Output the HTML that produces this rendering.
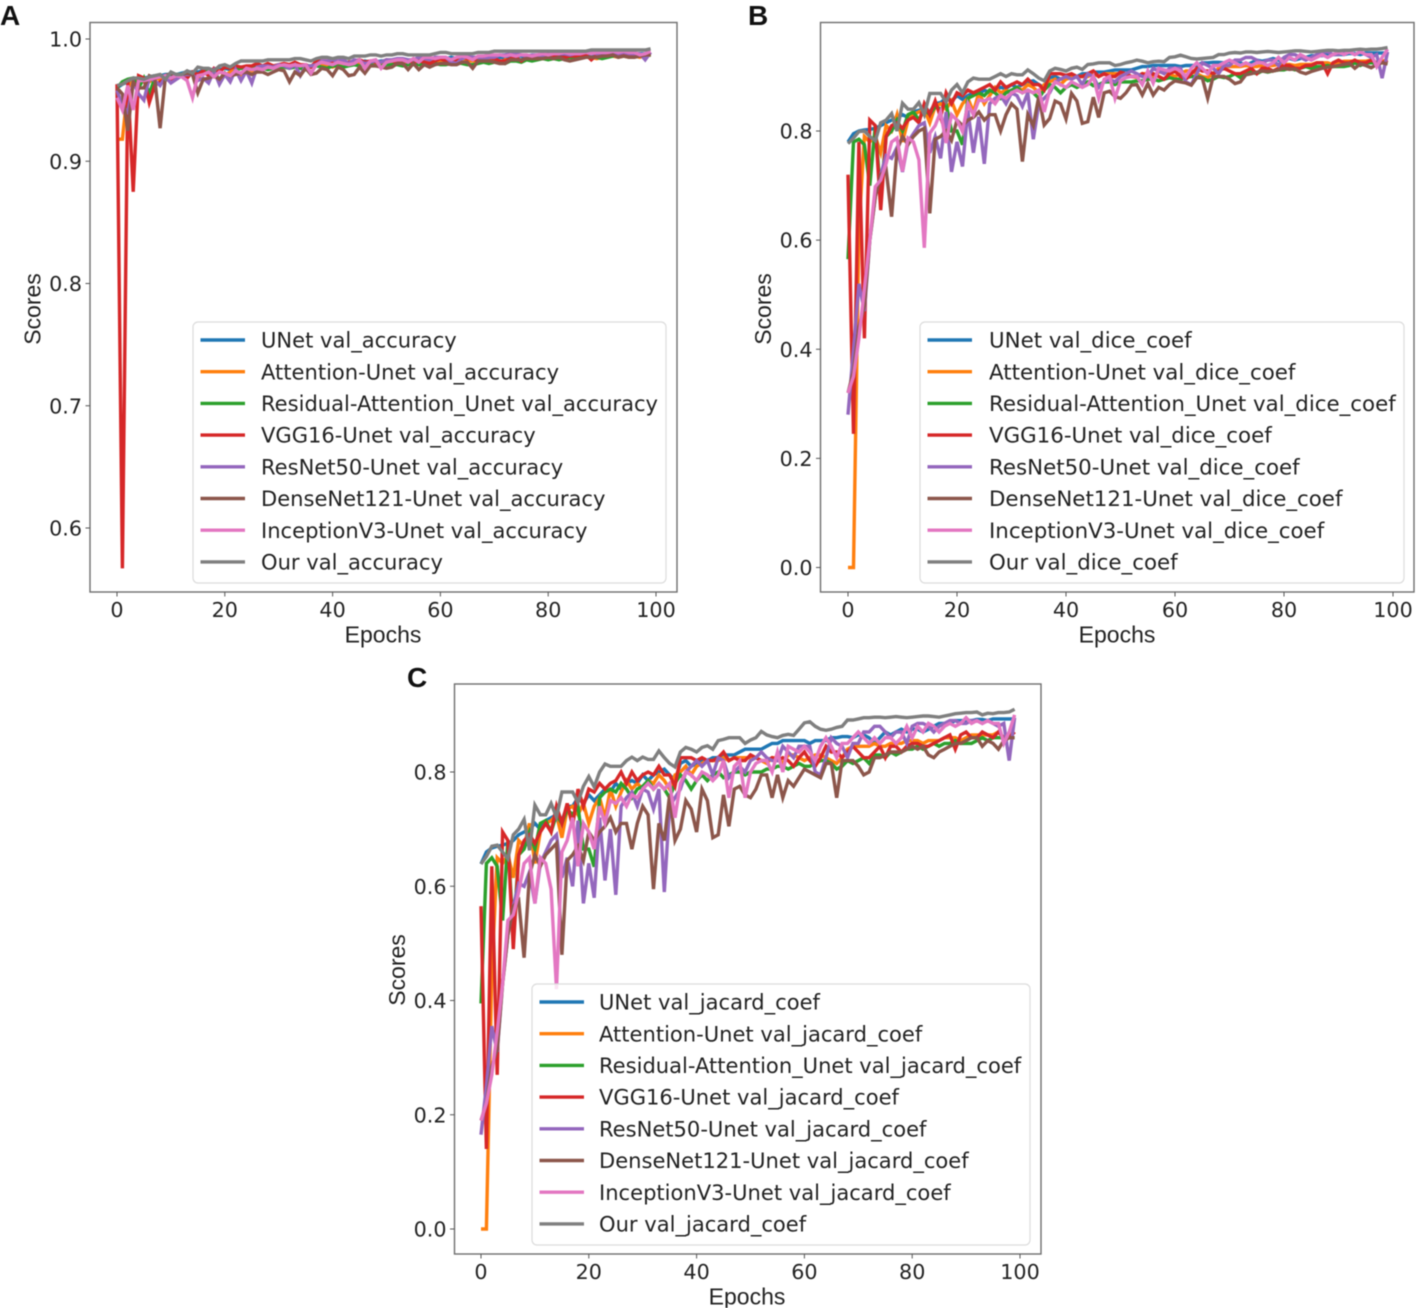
<!DOCTYPE html>
<html>
<head>
<meta charset="utf-8">
<title>Validation curves</title>
<style>
html,body{margin:0;padding:0;background:#fff;}
svg{display:block;filter:blur(0.4px);}
.tick{font-family:"DejaVu Sans",sans-serif;font-size:20.7px;fill:#222;}
.leg{font-family:"DejaVu Sans",sans-serif;font-size:21.05px;fill:#222;}
.ttl{font-family:"Liberation Sans",sans-serif;font-size:23px;fill:#222;}
.let{font-family:"Liberation Sans",sans-serif;font-size:28px;font-weight:bold;fill:#111;}
</style>
</head>
<body>
<svg id="fig" xmlns="http://www.w3.org/2000/svg" width="1416" height="1308" viewBox="0 0 1416 1308"></svg>
<script>
const xTickValues = [0, 20, 40, 60, 80, 100];
const yTicksAccuracy = [0.6, 0.7, 0.8, 0.9, 1.0];
const yTicksScores = [0.0, 0.2, 0.4, 0.6, 0.8];
const modelNames = ["UNet", "Attention-Unet", "Residual-Attention_Unet", "VGG16-Unet", "ResNet50-Unet", "DenseNet121-Unet", "InceptionV3-Unet", "Our"];
const seriesColors = ["#1f77b4", "#ff7f0e", "#2ca02c", "#d62728", "#9467bd", "#8c564b", "#e377c2", "#7f7f7f"];

const accUnet = [.96,.963,.965,.966,.967,.968,.969,.97,.97,.971,.971,.971,.972,.973,.973,.973,.974,.975,.975,.975,.976,.975,.976,.977,.976,.977,.977,.977,.978,.977,.978,.978,.978,.979,.979,.978,.978,.98,.98,.98,.98,.98,.98,.981,.981,.981,.982,.981,.981,.982,.982,.982,.982,.983,.982,.983,.984,.983,.984,.984,.984,.984,.985,.984,.984,.985,.985,.985,.985,.985,.986,.985,.985,.986,.986,.986,.985,.986,.986,.986,.987,.987,.987,.986,.987,.987,.988,.988,.987,.988,.988,.988,.988,.988,.988,.988,.988,.988,.988,.988];
const accAttention = [.918,.918,.96,.966,.965,.966,.965,.968,.967,.97,.965,.969,.97,.971,.972,.968,.973,.973,.972,.974,.97,.973,.975,.971,.976,.974,.976,.977,.976,.977,.976,.977,.977,.978,.977,.976,.978,.979,.979,.978,.977,.979,.98,.979,.98,.98,.979,.981,.98,.98,.981,.98,.98,.981,.981,.98,.98,.981,.982,.981,.981,.982,.983,.981,.981,.982,.982,.981,.982,.983,.982,.981,.983,.983,.983,.982,.984,.983,.984,.984,.984,.985,.984,.984,.985,.984,.985,.985,.985,.984,.985,.986,.986,.985,.986,.985,.986,.985,.986,.987];
const accResidual = [.96,.965,.967,.968,.96,.968,.955,.968,.969,.97,.968,.971,.971,.97,.973,.971,.973,.973,.974,.966,.972,.966,.975,.976,.976,.976,.977,.976,.975,.976,.977,.977,.976,.977,.976,.975,.977,.978,.977,.976,.978,.978,.977,.978,.979,.978,.978,.979,.978,.978,.979,.979,.979,.978,.979,.98,.979,.979,.979,.98,.979,.979,.98,.981,.98,.979,.979,.98,.981,.98,.981,.982,.98,.982,.982,.981,.983,.982,.983,.984,.983,.984,.983,.984,.985,.984,.985,.985,.985,.985,.984,.985,.986,.987,.986,.987,.986,.987,.986,.987];
const accVgg = [.963,.567,.965,.875,.97,.968,.948,.962,.965,.967,.966,.969,.97,.968,.973,.971,.974,.97,.976,.973,.977,.976,.978,.977,.978,.978,.98,.978,.98,.978,.979,.98,.979,.981,.979,.979,.977,.982,.982,.982,.981,.982,.981,.981,.982,.983,.981,.982,.981,.981,.983,.982,.981,.981,.982,.981,.982,.981,.98,.982,.984,.982,.98,.982,.985,.984,.984,.982,.984,.985,.984,.982,.982,.984,.985,.982,.985,.985,.984,.985,.986,.986,.985,.985,.986,.986,.987,.987,.983,.987,.988,.987,.987,.988,.987,.987,.988,.987,.987,.988];
const accResnet = [.958,.945,.94,.965,.955,.95,.968,.966,.962,.969,.964,.967,.97,.971,.971,.966,.968,.964,.974,.963,.971,.965,.975,.966,.974,.964,.977,.978,.978,.977,.979,.978,.976,.979,.97,.978,.978,.979,.982,.982,.983,.982,.983,.98,.983,.982,.98,.981,.982,.981,.983,.983,.984,.984,.983,.983,.985,.984,.983,.985,.985,.985,.981,.98,.984,.986,.985,.985,.983,.985,.985,.987,.987,.988,.988,.987,.986,.987,.987,.986,.988,.988,.988,.988,.987,.988,.988,.989,.989,.988,.988,.989,.989,.988,.989,.988,.988,.988,.983,.989];
const accDensenet = [.96,.955,.925,.965,.96,.96,.97,.968,.927,.97,.972,.97,.971,.972,.971,.956,.967,.968,.97,.967,.972,.97,.971,.972,.973,.971,.973,.973,.971,.973,.975,.974,.965,.973,.97,.976,.971,.972,.976,.975,.97,.977,.975,.97,.971,.977,.972,.978,.978,.977,.976,.977,.98,.98,.975,.98,.975,.979,.977,.979,.98,.98,.979,.979,.981,.981,.976,.982,.982,.982,.981,.98,.98,.983,.983,.983,.984,.984,.984,.984,.985,.984,.985,.983,.982,.983,.984,.985,.985,.985,.986,.986,.987,.985,.986,.985,.985,.986,.987,.987];
const accInception = [.952,.942,.962,.942,.966,.966,.967,.968,.969,.97,.968,.97,.969,.966,.952,.97,.971,.973,.969,.973,.972,.97,.974,.972,.976,.975,.976,.975,.977,.976,.978,.979,.978,.979,.978,.979,.972,.979,.981,.98,.979,.981,.98,.979,.98,.983,.976,.982,.983,.976,.981,.982,.983,.983,.981,.984,.981,.985,.985,.984,.985,.985,.983,.985,.986,.985,.983,.986,.986,.987,.987,.987,.986,.987,.986,.987,.987,.986,.987,.988,.987,.988,.988,.989,.988,.988,.988,.989,.988,.989,.989,.989,.99,.989,.99,.989,.989,.987,.988,.99];
const accOur = [.962,.963,.966,.968,.968,.967,.969,.97,.971,.967,.973,.971,.971,.974,.972,.977,.976,.976,.974,.978,.979,.977,.98,.982,.982,.982,.982,.982,.983,.983,.983,.983,.983,.984,.984,.983,.982,.984,.985,.985,.984,.985,.985,.984,.986,.986,.986,.987,.987,.986,.987,.987,.988,.988,.987,.987,.987,.987,.987,.988,.989,.989,.988,.988,.988,.988,.988,.989,.989,.989,.99,.99,.99,.99,.99,.99,.99,.99,.99,.99,.99,.99,.99,.99,.99,.99,.99,.99,.991,.991,.991,.991,.991,.991,.991,.991,.991,.991,.991,.992];

const diceUnet = [.78,.795,.80,.802,.803,.805,.81,.815,.82,.825,.83,.825,.835,.838,.84,.835,.85,.852,.86,.855,.865,.858,.865,.87,.868,.875,.87,.875,.88,.878,.885,.88,.885,.89,.892,.885,.88,.898,.90,.895,.897,.90,.90,.905,.905,.908,.908,.908,.91,.912,.912,.912,.912,.915,.918,.918,.92,.92,.92,.92,.92,.918,.92,.92,.92,.925,.925,.926,.926,.925,.928,.928,.925,.92,.925,.93,.928,.93,.933,.93,.933,.933,.93,.933,.935,.938,.938,.938,.94,.94,.94,.94,.942,.942,.94,.943,.943,.943,.943,.943];
const diceAttention = [0,0,.62,.79,.78,.79,.76,.81,.80,.83,.78,.82,.83,.835,.84,.815,.845,.85,.84,.855,.83,.85,.86,.835,.87,.85,.865,.88,.87,.875,.87,.88,.875,.885,.88,.87,.885,.89,.895,.885,.895,.898,.90,.90,.90,.905,.90,.905,.905,.905,.905,.905,.90,.898,.905,.905,.898,.908,.908,.905,.90,.905,.91,.91,.905,.90,.898,.905,.915,.918,.918,.918,.918,.92,.918,.918,.92,.92,.92,.922,.922,.922,.92,.922,.922,.922,.925,.925,.925,.922,.925,.928,.928,.928,.928,.928,.93,.925,.928,.93];
const diceResidual = [.565,.78,.785,.775,.70,.81,.68,.79,.80,.82,.80,.83,.835,.82,.84,.83,.845,.84,.85,.80,.80,.775,.86,.865,.87,.865,.875,.87,.86,.87,.875,.88,.87,.875,.87,.86,.875,.885,.88,.87,.88,.885,.88,.885,.89,.883,.885,.89,.89,.885,.89,.89,.89,.892,.892,.895,.895,.892,.895,.898,.895,.895,.898,.90,.90,.898,.892,.895,.90,.898,.90,.905,.898,.908,.908,.905,.91,.908,.91,.912,.912,.915,.912,.915,.918,.915,.918,.918,.92,.918,.918,.918,.92,.925,.92,.925,.925,.925,.925,.925];
const diceVgg = [.72,.245,.78,.42,.82,.81,.655,.79,.81,.815,.805,.82,.825,.815,.85,.83,.855,.825,.87,.85,.87,.865,.875,.87,.875,.88,.885,.875,.89,.88,.885,.89,.885,.895,.885,.885,.875,.905,.905,.905,.902,.905,.90,.90,.905,.91,.90,.905,.90,.90,.908,.905,.90,.90,.905,.90,.905,.90,.895,.905,.91,.90,.895,.905,.915,.91,.91,.905,.91,.915,.91,.905,.905,.91,.915,.905,.915,.915,.91,.915,.92,.92,.915,.915,.92,.92,.925,.925,.905,.925,.93,.925,.925,.93,.925,.925,.93,.925,.925,.93];
const diceResnet = [.28,.40,.52,.47,.60,.68,.72,.755,.75,.77,.725,.78,.795,.81,.815,.76,.79,.75,.835,.725,.78,.735,.838,.76,.826,.74,.85,.86,.865,.85,.87,.865,.845,.87,.785,.85,.86,.87,.89,.895,.90,.895,.90,.885,.905,.90,.88,.89,.895,.89,.90,.905,.91,.905,.90,.90,.915,.91,.905,.915,.915,.915,.89,.885,.905,.925,.92,.915,.905,.92,.92,.93,.93,.935,.935,.93,.925,.93,.93,.92,.935,.94,.94,.935,.93,.935,.94,.945,.945,.94,.94,.945,.945,.94,.945,.94,.935,.94,.897,.945];
const diceDensenet = [.32,.36,.44,.48,.60,.68,.72,.73,.643,.765,.79,.775,.79,.80,.805,.649,.785,.79,.80,.783,.82,.81,.82,.825,.835,.82,.83,.83,.80,.83,.85,.84,.744,.83,.81,.863,.811,.823,.855,.85,.822,.869,.855,.814,.817,.862,.825,.87,.873,.863,.86,.87,.884,.885,.866,.887,.866,.88,.875,.885,.892,.89,.888,.884,.898,.897,.86,.90,.90,.90,.895,.887,.89,.903,.905,.908,.91,.909,.91,.912,.915,.913,.914,.908,.905,.909,.912,.915,.917,.918,.92,.922,.924,.915,.923,.92,.916,.922,.925,.923];
const diceInception = [.32,.35,.42,.51,.60,.698,.71,.74,.78,.787,.726,.787,.78,.747,.586,.796,.81,.835,.778,.83,.82,.799,.85,.83,.857,.855,.86,.85,.865,.86,.87,.875,.87,.875,.87,.875,.835,.875,.89,.885,.88,.89,.885,.88,.885,.90,.86,.895,.90,.86,.892,.898,.90,.90,.885,.91,.888,.915,.912,.91,.915,.91,.90,.915,.925,.915,.905,.92,.92,.925,.93,.925,.92,.925,.92,.925,.925,.92,.925,.935,.925,.935,.93,.94,.935,.93,.935,.94,.935,.94,.945,.94,.945,.94,.945,.94,.94,.918,.935,.95];
const diceOur = [.777,.787,.799,.80,.79,.782,.815,.82,.832,.80,.851,.84,.84,.852,.83,.869,.869,.869,.853,.875,.885,.87,.89,.897,.895,.895,.895,.90,.905,.90,.905,.903,.903,.912,.905,.897,.892,.91,.915,.913,.91,.915,.917,.913,.922,.923,.925,.925,.925,.92,.922,.925,.927,.93,.928,.925,.927,.928,.927,.935,.936,.939,.936,.933,.932,.933,.934,.935,.94,.94,.943,.944,.943,.945,.945,.944,.945,.946,.945,.944,.945,.946,.947,.947,.946,.945,.946,.947,.948,.948,.947,.948,.948,.949,.95,.949,.95,.95,.951,.953];

const jacUnet = [.639,.66,.667,.67,.672,.675,.68,.69,.695,.70,.71,.70,.715,.72,.725,.715,.74,.74,.755,.745,.76,.75,.76,.77,.765,.78,.77,.78,.785,.78,.795,.785,.795,.80,.805,.795,.785,.815,.82,.81,.815,.82,.82,.825,.825,.83,.83,.83,.835,.84,.84,.84,.84,.845,.85,.85,.855,.855,.855,.855,.855,.85,.855,.855,.855,.86,.86,.862,.862,.86,.865,.865,.86,.85,.86,.87,.865,.87,.875,.87,.875,.875,.87,.875,.88,.885,.885,.885,.89,.89,.89,.89,.892,.892,.89,.893,.893,.893,.893,.893];
const jacAttention = [0,0,.45,.65,.64,.655,.615,.68,.67,.71,.64,.695,.71,.715,.725,.685,.735,.74,.725,.745,.71,.74,.755,.72,.77,.74,.765,.785,.77,.78,.77,.785,.78,.795,.785,.77,.795,.80,.81,.795,.81,.815,.82,.82,.82,.825,.82,.825,.825,.825,.825,.825,.82,.815,.825,.825,.815,.83,.83,.825,.82,.825,.83,.83,.825,.82,.815,.825,.84,.845,.845,.845,.845,.85,.845,.845,.85,.85,.85,.855,.855,.855,.85,.855,.855,.855,.86,.86,.86,.855,.86,.865,.865,.865,.865,.865,.87,.86,.865,.87];
const jacResidual = [.395,.64,.65,.635,.54,.68,.515,.655,.665,.695,.665,.71,.715,.695,.725,.71,.735,.725,.74,.665,.665,.634,.755,.765,.77,.765,.78,.77,.755,.77,.775,.785,.77,.78,.77,.755,.78,.795,.785,.77,.785,.795,.785,.795,.80,.79,.795,.80,.80,.795,.80,.80,.80,.805,.805,.81,.81,.805,.81,.815,.81,.81,.815,.82,.82,.815,.805,.81,.82,.815,.82,.825,.815,.83,.83,.825,.835,.83,.835,.84,.84,.845,.84,.845,.85,.845,.85,.85,.855,.85,.85,.85,.855,.86,.855,.86,.86,.86,.86,.86];
const jacVgg = [.565,.14,.635,.27,.695,.68,.49,.655,.68,.69,.675,.695,.71,.695,.74,.71,.745,.705,.77,.74,.77,.765,.78,.77,.78,.785,.80,.78,.80,.785,.795,.80,.795,.81,.795,.795,.775,.825,.825,.825,.82,.825,.82,.82,.825,.835,.82,.825,.82,.82,.83,.825,.82,.82,.825,.82,.825,.82,.81,.825,.835,.82,.81,.825,.845,.835,.835,.825,.835,.845,.835,.825,.825,.835,.845,.825,.845,.845,.835,.845,.85,.85,.845,.845,.85,.855,.86,.865,.84,.865,.87,.86,.86,.87,.865,.86,.87,.86,.86,.87];
const jacResnet = [.165,.25,.355,.31,.43,.515,.565,.605,.60,.625,.57,.64,.66,.68,.69,.615,.65,.60,.715,.57,.64,.58,.72,.61,.70,.585,.74,.755,.765,.74,.77,.765,.735,.77,.59,.74,.755,.77,.80,.81,.82,.81,.82,.795,.825,.82,.79,.80,.81,.80,.82,.825,.835,.825,.82,.82,.845,.835,.825,.845,.845,.845,.80,.795,.825,.86,.85,.845,.825,.85,.85,.87,.87,.88,.88,.87,.86,.87,.87,.85,.88,.885,.885,.88,.87,.88,.885,.89,.89,.885,.885,.89,.89,.885,.89,.885,.88,.885,.82,.895];
const jacDensenet = [.19,.22,.285,.315,.43,.515,.565,.575,.475,.62,.655,.635,.655,.665,.675,.48,.645,.655,.67,.645,.695,.68,.695,.705,.72,.695,.71,.71,.665,.71,.74,.725,.595,.71,.68,.76,.68,.70,.75,.735,.695,.77,.75,.685,.69,.76,.705,.77,.775,.76,.755,.77,.795,.795,.755,.795,.755,.785,.775,.79,.805,.80,.795,.79,.815,.815,.755,.82,.82,.82,.81,.795,.80,.825,.825,.83,.835,.835,.835,.84,.845,.84,.845,.83,.825,.835,.84,.845,.85,.85,.855,.86,.86,.845,.855,.85,.84,.855,.86,.86];
const jacInception = [.19,.22,.27,.345,.43,.54,.55,.59,.64,.65,.57,.65,.64,.595,.42,.66,.68,.72,.635,.71,.695,.665,.74,.71,.75,.745,.755,.74,.76,.755,.77,.78,.77,.78,.77,.78,.72,.78,.80,.795,.785,.80,.795,.785,.795,.82,.755,.81,.82,.755,.80,.815,.82,.82,.80,.835,.80,.845,.84,.835,.845,.835,.82,.845,.86,.845,.825,.85,.85,.86,.87,.86,.85,.86,.85,.86,.86,.85,.86,.88,.86,.88,.87,.885,.88,.87,.88,.885,.88,.885,.895,.885,.89,.885,.89,.885,.885,.85,.87,.90];
const jacOur = [.639,.652,.67,.672,.66,.648,.69,.70,.717,.663,.742,.725,.725,.745,.721,.765,.765,.765,.747,.775,.792,.774,.80,.814,.81,.81,.81,.82,.826,.82,.826,.822,.822,.837,.825,.815,.809,.835,.843,.84,.835,.843,.846,.84,.855,.857,.86,.86,.86,.85,.856,.86,.871,.865,.862,.86,.864,.866,.864,.875,.886,.888,.88,.875,.873,.875,.878,.88,.891,.891,.893,.895,.895,.896,.896,.895,.896,.897,.896,.895,.896,.897,.898,.898,.897,.896,.898,.90,.902,.903,.904,.904,.905,.90,.903,.902,.904,.904,.905,.91];

const svg = document.getElementById('fig');
const NS = 'http://www.w3.org/2000/svg';

function mk(tag, attrs, name, parent) {
  const el = document.createElementNS(NS, tag);
  for (const k in attrs) el.setAttribute(k, attrs[k]);
  
  
  (parent || svg).appendChild(el);
  return el;
}
function label(txt, attrs, name, parent) {
  const el = mk('text', attrs, name, parent);
  el.textContent = txt;
  return el;
}

function drawPanel(p) {
  const g = mk('g', {}, 'panel-' + p.letter.toLowerCase());
  const xScale = v => p.x0 + v * p.xPerUnit;
  const yScale = v => p.yBase + (v - p.yBaseValue) * -p.yPerUnit;

  label(p.letter, {x: p.letterX, y: p.letterY, class: 'let'}, 'panel-letter', g);

  const clipId = 'clip-' + p.letter;
  const defs = mk('defs', {}, 'plot-clip-defs', g);
  const cp = document.createElementNS(NS, 'clipPath');
  cp.setAttribute('id', clipId);
  const cr = document.createElementNS(NS, 'rect');
  cr.setAttribute('x', p.left); cr.setAttribute('y', p.top);
  cr.setAttribute('width', p.right - p.left); cr.setAttribute('height', p.bottom - p.top);
  cp.appendChild(cr); defs.appendChild(cp);

  const linesG = mk('g', {'clip-path': 'url(#' + clipId + ')'}, 'series-lines', g);
  p.series.forEach((vals, i) => {
    const pts = vals.map((v, e) => xScale(e).toFixed(1) + ',' + yScale(v).toFixed(1)).join(' ');
    mk('polyline', {points: pts, fill: 'none', stroke: seriesColors[i], 'stroke-width': 3.4, 'stroke-linejoin': 'miter', 'stroke-miterlimit': 4},
       'line-' + modelNames[i].toLowerCase().replace(/[^a-z0-9]+/g, '-'), linesG);
  });

  mk('rect', {x: p.left, y: p.top, width: p.right - p.left, height: p.bottom - p.top, fill: 'none', stroke: '#6e6e6e', 'stroke-width': 1.4}, 'axes-frame', g);

  const xAxis = mk('g', {}, 'x-axis', g);
  xTickValues.forEach(t => {
    const x = xScale(t);
    mk('line', {x1: x, x2: x, y1: p.bottom, y2: p.bottom + 4.5, stroke: '#555', 'stroke-width': 1}, 'x-tick', xAxis);
    label(String(t), {x: x, y: p.bottom + 25, 'text-anchor': 'middle', class: 'tick'}, 'x-tick-label', xAxis);
  });
  label('Epochs', {x: p.epochsX, y: p.bottom + 50.5, 'text-anchor': 'middle', class: 'ttl'}, 'x-axis-title', xAxis);

  const yAxis = mk('g', {}, 'y-axis', g);
  p.yTicks.forEach(t => {
    const y = yScale(t);
    mk('line', {x1: p.left - 4.5, x2: p.left, y1: y, y2: y, stroke: '#555', 'stroke-width': 1}, 'y-tick', yAxis);
    label(t.toFixed(1), {x: p.left - 8, y: y + 7.5, 'text-anchor': 'end', class: 'tick'}, 'y-tick-label', yAxis);
  });
  label('Scores', {x: 0, y: 0, transform: 'translate(' + (p.left - 49.5) + ',' + p.scoresY + ') rotate(-90)', 'text-anchor': 'middle', class: 'ttl'}, 'y-axis-title', yAxis);

  const lg = mk('g', {}, 'legend', g);
  mk('rect', {x: p.legX, y: p.legY, width: p.legW, height: 261, rx: 5, ry: 5, fill: '#fff', 'fill-opacity': 0.8, stroke: '#dcdcdc', 'stroke-width': 1.2}, 'legend-frame', lg);
  modelNames.forEach((m, i) => {
    const rowY = p.legY + 18 + i * 31.7;
    const entry = mk('g', {}, 'legend-entry', lg);
    mk('line', {x1: p.legX + 7.5, x2: p.legX + 52, y1: rowY, y2: rowY, stroke: seriesColors[i], 'stroke-width': 3.4}, 'legend-swatch', entry);
    label(m + ' ' + p.metric, {x: p.legTextX, y: rowY + 7.6, class: 'leg', style: 'font-size:' + p.legFont + 'px'}, 'legend-label', entry);
  });
}

drawPanel({letter: 'A', letterX: 0, letterY: 25, left: 90, right: 677, top: 22.5, bottom: 592,
  x0: 117, xPerUnit: 5.39, yBase: 39, yBaseValue: 1.0, yPerUnit: 1222.5, yTicks: yTicksAccuracy,
  epochsX: 383, scoresY: 309, legX: 193, legY: 322, legW: 473, legTextX: 261, legFont: 21.05, metric: 'val_accuracy',
  series: [accUnet, accAttention, accResidual, accVgg, accResnet, accDensenet, accInception, accOur]});

drawPanel({letter: 'B', letterX: 748, letterY: 25, left: 820.5, right: 1414, top: 22.5, bottom: 592,
  x0: 848, xPerUnit: 5.45, yBase: 567.5, yBaseValue: 0.0, yPerUnit: 545.6, yTicks: yTicksScores,
  epochsX: 1117, scoresY: 309, legX: 920, legY: 322, legW: 484, legTextX: 989, legFont: 21.35, metric: 'val_dice_coef',
  series: [diceUnet, diceAttention, diceResidual, diceVgg, diceResnet, diceDensenet, diceInception, diceOur]});

drawPanel({letter: 'C', letterX: 407, letterY: 687, left: 454.5, right: 1041, top: 684, bottom: 1254,
  x0: 481, xPerUnit: 5.39, yBase: 1229, yBaseValue: 0.0, yPerUnit: 571.25, yTicks: yTicksScores,
  epochsX: 747, scoresY: 970, legX: 532, legY: 984, legW: 498, legTextX: 599, legFont: 21.05, metric: 'val_jacard_coef',
  series: [jacUnet, jacAttention, jacResidual, jacVgg, jacResnet, jacDensenet, jacInception, jacOur]});
</script>
</body>
</html>
